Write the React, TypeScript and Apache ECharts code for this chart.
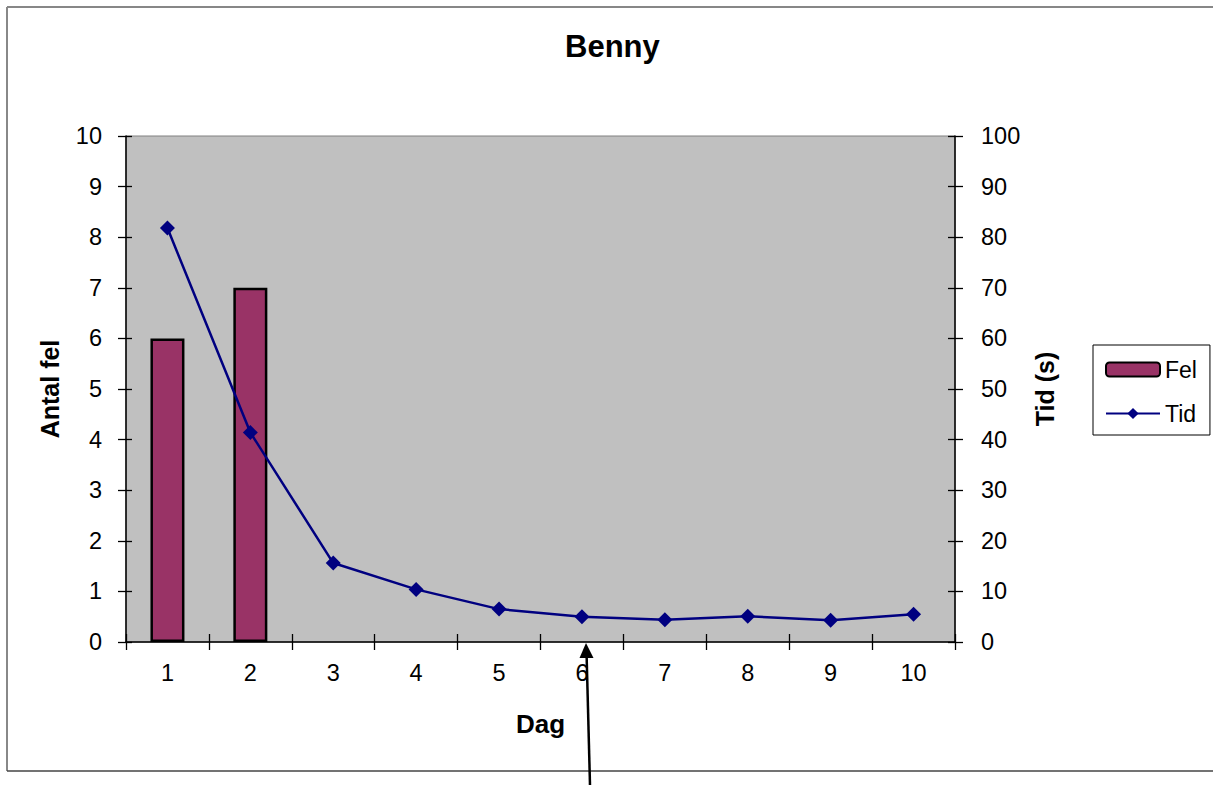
import React, { useEffect, useRef } from "react";
import * as echarts from "echarts";

const days = ["1", "2", "3", "4", "5", "6", "7", "8", "9", "10"];
const felValues = [6, 7, null, null, null, null, null, null, null, null];
const tidValues = [81.8, 41.4, 15.6, 10.4, 6.5, 5.0, 4.4, 5.1, 4.3, 5.5];
const leftTicks = { min: 0, max: 10, interval: 1 };
const rightTicks = { min: 0, max: 100, interval: 10 };

const FONT = 'Arial, "Liberation Sans", sans-serif';

export default function App() {
  const ref = useRef<HTMLDivElement>(null);
  useEffect(() => {
    if (!ref.current) return;
    const chart = echarts.init(ref.current, undefined, { renderer: "svg" });
    const labelStyle = { color: "#000", fontSize: 23.5, fontFamily: FONT };
    const nameStyle = { color: "#000", fontSize: 25, fontWeight: "bold" as const, fontFamily: FONT };
    chart.setOption({
      animation: false,
      backgroundColor: "#fff",
      title: {
        text: "Benny",
        left: 565,
        top: 31,
        padding: 0,
        textStyle: { color: "#000", fontSize: 31, fontWeight: "bold", fontFamily: FONT },
      },
      legend: {
        orient: "vertical",
        left: 1093,
        top: 345,
        padding: [13, 13, 10, 12],
        itemGap: 21,
        itemWidth: 54,
        itemHeight: 14,
        borderColor: "#000",
        borderWidth: 1,
        backgroundColor: "#fff",
        textStyle: { color: "#000", fontSize: 23, fontFamily: FONT },
        data: ["Fel", "Tid"],
      },
      grid: {
        left: 126,
        top: 136,
        right: 258,
        bottom: 143,
        show: true,
        backgroundColor: "#C0C0C0",
        borderColor: "#808080",
        borderWidth: 1,
      },
      xAxis: [
        {
          type: "category",
          data: days,
          boundaryGap: true,
          name: "Dag",
          nameLocation: "middle",
          nameGap: 69,
          nameTextStyle: { ...nameStyle, fontSize: 26 },
          axisLine: { show: true, lineStyle: { color: "#000", width: 1.5 } },
          axisTick: { show: true, inside: false, length: 8, lineStyle: { color: "#000", width: 1.3 } },
          axisLabel: { ...labelStyle, margin: 19 },
          splitLine: { show: false },
        },
        {
          type: "category",
          data: days,
          boundaryGap: true,
          position: "bottom",
          axisLine: { show: false },
          axisTick: { show: true, inside: true, length: 8, lineStyle: { color: "#000", width: 1.3 } },
          axisLabel: { show: false },
          splitLine: { show: false },
        },
      ],
      yAxis: [
        {
          type: "value",
          position: "left",
          ...leftTicks,
          name: "Antal fel",
          nameLocation: "middle",
          nameRotate: 90,
          nameGap: 64,
          nameTextStyle: nameStyle,
          axisLine: { show: true, lineStyle: { color: "#000", width: 1.5 } },
          axisTick: { show: true, inside: false, length: 8, lineStyle: { color: "#000", width: 1.3 } },
          axisLabel: { ...labelStyle, margin: 24 },
          splitLine: { show: false },
        },
        {
          type: "value",
          position: "right",
          ...rightTicks,
          name: "Tid (s)",
          nameLocation: "middle",
          nameRotate: 90,
          nameGap: 77,
          nameTextStyle: nameStyle,
          axisLine: { show: true, lineStyle: { color: "#000", width: 1.5 } },
          axisTick: { show: true, inside: false, length: 8, lineStyle: { color: "#000", width: 1.3 } },
          axisLabel: { ...labelStyle, margin: 26 },
          splitLine: { show: false },
        },
        {
          type: "value",
          position: "left",
          ...leftTicks,
          axisLine: { show: false },
          axisTick: { show: true, inside: true, length: 6, lineStyle: { color: "#000", width: 1.3 } },
          axisLabel: { show: false },
          splitLine: { show: false },
        },
        {
          type: "value",
          position: "right",
          ...rightTicks,
          axisLine: { show: false },
          axisTick: { show: true, inside: true, length: 7, lineStyle: { color: "#000", width: 1.3 } },
          axisLabel: { show: false },
          splitLine: { show: false },
        },
      ],
      series: [
        {
          name: "Fel",
          type: "bar",
          xAxisIndex: 0,
          yAxisIndex: 0,
          data: felValues,
          barWidth: 34,
          itemStyle: { color: "#993366", borderColor: "#000", borderWidth: 2.5 },
        },
        {
          name: "Tid",
          type: "line",
          xAxisIndex: 0,
          yAxisIndex: 1,
          data: tidValues,
          symbol: "diamond",
          symbolSize: 15,
          lineStyle: { color: "#000080", width: 2.5 },
          itemStyle: { color: "#000080" },
        },
      ],
      graphic: [
        { type: "line", shape: { x1: 7, y1: 7, x2: 1213, y2: 7 }, style: { stroke: "#111", lineWidth: 1.2 } },
        { type: "line", shape: { x1: 7, y1: 7, x2: 7, y2: 771 }, style: { stroke: "#888", lineWidth: 2 } },
        { type: "line", shape: { x1: 7, y1: 771, x2: 1213, y2: 771 }, style: { stroke: "#444", lineWidth: 1.5 } },
        { type: "line", shape: { x1: 590, y1: 785, x2: 586.6, y2: 655 }, style: { stroke: "#000", lineWidth: 2.5 } },
        {
          type: "polygon",
          shape: { points: [[586, 643], [579.5, 658], [593.5, 658]] },
          style: { fill: "#000" },
        },
      ],
    });
    return () => chart.dispose();
  }, []);
  return (
    <div
      ref={ref}
      style={{ position: "fixed", left: 0, top: 0, width: 1213, height: 785 }}
    />
  );
}
